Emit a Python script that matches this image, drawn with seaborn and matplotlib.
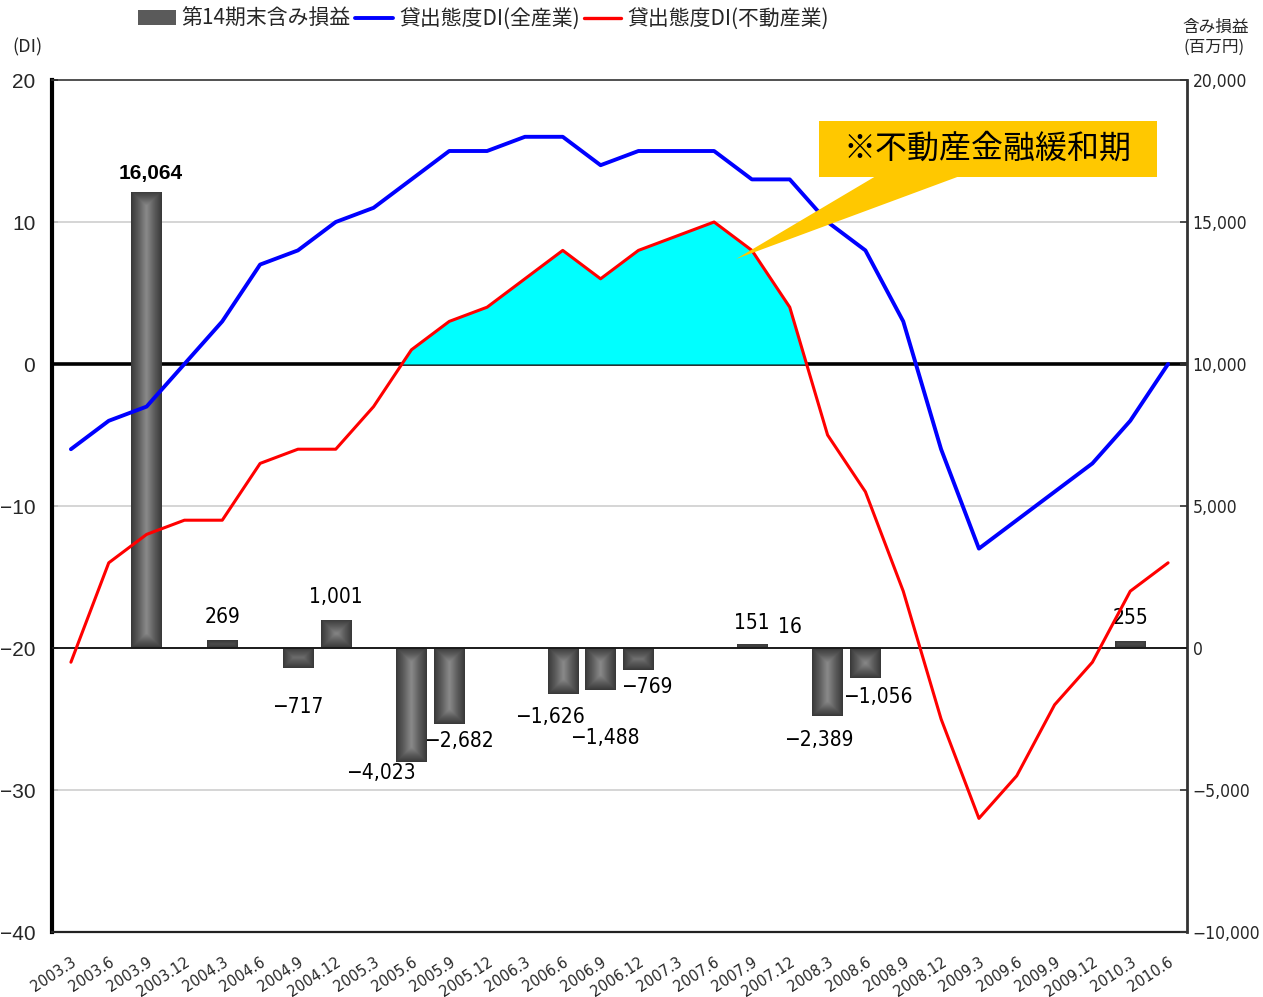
import numpy as np
import pandas as pd
import matplotlib
matplotlib.use("Agg")
import matplotlib.pyplot as plt
import seaborn as sns
from matplotlib import font_manager
from matplotlib.font_manager import FontProperties
from matplotlib.patches import Rectangle, Polygon, Patch
from matplotlib.lines import Line2D
from matplotlib.colors import LinearSegmentedColormap
from matplotlib.ticker import FuncFormatter, FixedLocator

# ---- data -------------------------------------------------------------
quarters = ["2003.3", "2003.6", "2003.9", "2003.12",
            "2004.3", "2004.6", "2004.9", "2004.12",
            "2005.3", "2005.6", "2005.9", "2005.12",
            "2006.3", "2006.6", "2006.9", "2006.12",
            "2007.3", "2007.6", "2007.9", "2007.12",
            "2008.3", "2008.6", "2008.9", "2008.12",
            "2009.3", "2009.6", "2009.9", "2009.12",
            "2010.3", "2010.6"]

# lending attitude DI, all industries
di_all = [-6, -4, -3, 0, 3, 7, 8, 10, 11, 13, 15, 15, 16, 16, 14, 15,
          15, 15, 13, 13, 10, 8, 3, -6, -13, -11, -9, -7, -4, 0]

# lending attitude DI, real estate
di_realestate = [-21, -14, -12, -11, -11, -7, -6, -6, -3, 1, 3, 4, 6, 8, 6, 8,
                 9, 10, 8, 4, -5, -9, -16, -25, -32, -29, -24, -21, -16, -14]

# unrealized gains/losses at end of 14th period (million yen)
gain_quarters = ["2003.9", "2004.3", "2004.9", "2004.12", "2005.6", "2005.9",
                 "2006.6", "2006.9", "2006.12", "2007.9", "2007.12",
                 "2008.3", "2008.6", "2010.3"]
gain_values = [16064, 269, -717, 1001, -4023, -2682,
               -1626, -1488, -769, 151, 16,
               -2389, -1056, 255]

legend_labels = ["第14期末含み損益", "貸出態度DI(全産業)", "貸出態度DI(不動産業)"]
callout_text = "※不動産金融緩和期"

# label nudges (pixels: dx, dy) for each value label
label_nudge = [(4, 18), (0, 23), (0, -39), (0, 23), (-31, -11), (10, -17),
               (-13, -23), (4, -48), (8, -17), (0, 21), (0, 21),
               (-9, -24), (12, -19), (0, 23)]

# ---- fonts ------------------------------------------------------------
sns.set_style("white")


def condensed_font():
    """Pick a narrow/condensed sans face if one is installed."""
    best = None
    for f in font_manager.fontManager.ttflist:
        narrow = ("Narrow" in f.name or "Condensed" in f.name
                  or str(f.stretch) in ("condensed", "semi-condensed", "extra-condensed")
                  or (isinstance(f.stretch, int) and f.stretch < 500))
        if narrow and f.style == "normal" and f.weight in (400, "normal", "regular"):
            if best is None or "Liberation" in f.name:
                best = f
    if best is not None:
        return FontProperties(fname=best.fname)
    return FontProperties(family="Liberation Sans")


NARROW_FP = condensed_font()
CJK = ["Noto Sans CJK JP", "DejaVu Sans"]
plt.rcParams["font.family"] = ["Liberation Sans", "Noto Sans CJK JP", "DejaVu Sans"]
plt.rcParams["axes.unicode_minus"] = True


def narrow(size):
    fp = NARROW_FP.copy()
    fp.set_size(size)
    return fp


W, H = 1263, 997
fig = plt.figure(figsize=(W / 100, H / 100), dpi=100)
fig.patch.set_facecolor("white")

L, R, T, B = 52, 1187, 80, 932
rect = [L / W, (H - B) / H, (R - L) / W, (B - T) / H]

ax_base = fig.add_axes(rect)
ax_bar = ax_base.twinx()
ax_line = ax_base.twinx()

pos = np.arange(len(quarters))
gain_pos = np.array([quarters.index(q) for q in gain_quarters])

XLIM = (-0.5, len(quarters) - 0.5)
DI_LIM = (-40, 20)
GAIN_LIM = (-10000, 20000)

# ---- base layer: grid & zero line ------------------------------------
ax_base.set_xlim(*XLIM)
ax_base.set_ylim(*DI_LIM)
for g in (10, -10, -30):
    ax_base.axhline(g, color="#d2d2d2", lw=1.3, zorder=1)
ax_base.axhline(0, color="black", lw=2.6, zorder=2)

# ---- bars --------------------------------------------------------------
df_gain = pd.DataFrame({"pos": gain_pos, "gain": gain_values})
sns.barplot(data=df_gain, x="pos", y="gain", native_scale=True, ax=ax_bar,
            color="#444444", width=0.8, errorbar=None, saturation=1,
            linewidth=0, zorder=2)
ax_bar.set_xlim(*XLIM)
ax_bar.set_ylim(*GAIN_LIM)
ax_bar.axhline(0, color="#1a1a1a", lw=1.4, zorder=4)

# pillow-style shading inside each bar
shade = LinearSegmentedColormap.from_list("shade", ["#363636", "#5a5a5a", "#8a8a8a"])
to_px = ax_bar.transData
for p in list(ax_bar.patches):
    x0, y0 = p.get_x(), p.get_y()
    w, h = p.get_width(), p.get_height()
    if not np.isfinite(h) or h == 0:
        continue
    (px0, py0), (px1, py1) = to_px.transform([(x0, y0), (x0 + w, y0 + h)])
    wpx, hpx = abs(px1 - px0), abs(py1 - py0)
    nx, ny = max(int(wpx), 2), max(int(hpx), 2)
    xs = (np.arange(nx) + 0.5) * wpx / nx
    ys = (np.arange(ny) + 0.5) * hpx / ny
    dx = np.minimum(xs, wpx - xs)[None, :]
    dy = np.minimum(ys, hpx - ys)[:, None]
    d = np.clip(np.minimum(dx, dy) / (wpx / 2), 0, 1) ** 0.9
    im = ax_bar.imshow(d, extent=[x0, x0 + w, min(y0, y0 + h), max(y0, y0 + h)],
                       origin="lower", cmap=shade, vmin=0, vmax=1, aspect="auto",
                       interpolation="bilinear", zorder=3)
    im.set_clip_path(p)
ax_bar.set_xlim(*XLIM)
ax_bar.set_ylim(*GAIN_LIM)

# value labels on the bars
for p in ax_bar.patches:
    cx = p.get_x() + p.get_width() / 2
    idx = int(np.argmin(np.abs(gain_pos - cx)))
    v = gain_values[idx]
    dxp, dyp = label_nudge[idx]
    txt = f"{v:,}".replace("-", "−")
    if idx == 0:
        kw = dict(fontfamily="Liberation Sans", fontweight="bold", fontsize=15)
    else:
        kw = dict(fontproperties=narrow(15))
    ax_bar.annotate(txt, xy=(cx, v), xytext=(dxp * 0.72, dyp * 0.72),
                    textcoords="offset points", ha="center", va="center",
                    color="black", zorder=6, **kw)

# ---- DI lines ----------------------------------------------------------
ax_line.set_xlim(*XLIM)
ax_line.set_ylim(*DI_LIM)
re_arr = np.array(di_realestate, dtype=float)
ax_line.fill_between(pos, re_arr, 0, where=re_arr > 0, interpolate=True,
                     color="#00FFFF", linewidth=0, zorder=2)
sns.lineplot(x=pos, y=di_all, ax=ax_line, color="#0000FF", linewidth=2.8,
             sort=False, legend=False, zorder=4)
sns.lineplot(x=pos, y=di_realestate, ax=ax_line, color="#FF0000", linewidth=2.2,
             sort=False, legend=False, zorder=4)
ax_line.set_xlim(*XLIM)
ax_line.set_ylim(*DI_LIM)


# callout box with pointer
def px2data(px, py):
    return ax_line.transData.inverted().transform(
        fig.transFigure.transform((px / W, 1 - py / H)))


bx0, by1 = px2data(819, 121)
bx1, by0 = px2data(1157, 177)
ax_line.add_patch(Rectangle((bx0, by0), bx1 - bx0, by1 - by0,
                            facecolor="#FFC800", edgecolor="none", zorder=7))
wedge = [px2data(876, 176), px2data(960, 176), px2data(736, 259)]
ax_line.add_patch(Polygon(wedge, closed=True, facecolor="#FFC800",
                          edgecolor="none", zorder=7))
cx_, cy_ = px2data(988, 149)
ax_line.text(cx_, cy_, callout_text, ha="center", va="center", fontsize=23,
             fontfamily=CJK, color="black", zorder=8)

# ---- axes styling ------------------------------------------------------
ax_base.set_yticks([20, 10, 0, -10, -20, -30, -40])
ax_base.tick_params(axis="y", which="both", direction="in", length=4,
                    width=1.2, pad=12, labelsize=15, color="black")
for lbl in ax_base.get_yticklabels():
    lbl.set_fontfamily("Liberation Sans")

ax_base.set_xticks(pos)
ax_base.set_xticklabels(quarters, rotation=33, ha="right",
                        rotation_mode="anchor", fontproperties=narrow(11.5))
ax_base.tick_params(axis="x", length=0, pad=16)

ax_bar.yaxis.set_major_locator(FixedLocator([-10000, -5000, 0, 5000, 10000, 15000, 20000]))
ax_bar.yaxis.set_major_formatter(FuncFormatter(lambda v, _: f"{v:,.0f}".replace("-", "−")))
ax_bar.tick_params(axis="y", direction="in", length=5, width=1.2, pad=4,
                   color="#333333")
for lbl in ax_bar.get_yticklabels():
    lbl.set_fontproperties(narrow(12.5))
ax_bar.set_ylabel("")
ax_bar.set_xlabel("")

ax_line.yaxis.set_visible(False)
for s in ax_line.spines.values():
    s.set_visible(False)

for name, s in ax_bar.spines.items():
    s.set_visible(name == "right")
ax_bar.spines["right"].set_color("#333333")
ax_bar.spines["right"].set_linewidth(2.0)

ax_base.spines["right"].set_visible(False)
ax_base.spines["left"].set_color("black")
ax_base.spines["left"].set_linewidth(3.0)
ax_base.spines["bottom"].set_color("#222222")
ax_base.spines["bottom"].set_linewidth(1.6)
ax_base.spines["top"].set_color("#333333")
ax_base.spines["top"].set_linewidth(1.2)
ax_base.set_xlabel("")
ax_base.set_ylabel("")

# ---- axis titles and legend -------------------------------------------
fig.text(12 / W, 1 - 47 / H, "(DI)", fontsize=13, fontfamily=CJK,
         ha="left", va="center")
fig.text(1216 / W, 1 - 27 / H, "含み損益", fontsize=12, fontfamily=CJK,
         ha="center", va="center")
fig.text(1214 / W, 1 - 47 / H, "(百万円)", fontsize=12, fontfamily=CJK,
         ha="center", va="center")

handles = [Patch(facecolor="#5a5a5a", edgecolor="none"),
           Line2D([], [], color="#0000FF", lw=2.8),
           Line2D([], [], color="#FF0000", lw=2.4)]
fig.legend(handles, legend_labels, loc="upper left",
           bbox_to_anchor=(138 / W, 1 - 8 / H), ncol=3, frameon=False,
           handlelength=1.8, handleheight=0.7, handletextpad=0.3,
           columnspacing=0.2, borderaxespad=0, borderpad=0,
           prop={"family": CJK, "size": 15})

fig.savefig("out.png", dpi=100, facecolor="white")
